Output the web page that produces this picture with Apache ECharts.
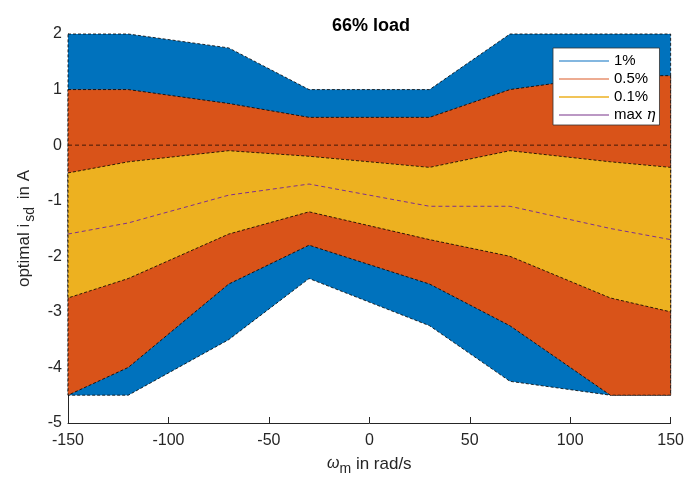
<!DOCTYPE html>
<html>
<head>
<meta charset="utf-8">
<script src="https://cdn.jsdelivr.net/npm/echarts@6/dist/echarts.min.js"></script>
<style>
  html, body { margin: 0; padding: 0; background: #fff; }
  #chart { width: 687px; height: 481px; }
</style>
</head>
<body>
<div id="chart"></div>
<script>
// Speed grid (rad/s)
const omega = [-150, -120, -70, -30, 30, 70, 120, 150];

// Tolerance bands of the optimal d-axis current (A): upper and lower limits
const upper1  = [2, 2, 1.75, 1, 1, 2, 2, 2];
const lower1  = [-4.5, -4.5, -3.5, -2.4, -3.25, -4.25, -4.5, -4.5];
const upper05 = [1, 1, 0.75, 0.5, 0.5, 1, 1.25, 1.25];
const lower05 = [-4.5, -4, -2.5, -1.8, -2.5, -3.25, -4.5, -4.5];
const upper01 = [-0.5, -0.3, -0.1, -0.2, -0.4, -0.1, -0.3, -0.4];
const lower01 = [-2.75, -2.4, -1.6, -1.2, -1.7, -2.0, -2.75, -3.0];

// Current at maximum efficiency
const maxEta = [-1.6, -1.4, -0.9, -0.7, -1.1, -1.1, -1.5, -1.7];

// Axis ticks
const xTicks = [-150, -100, -50, 0, 50, 100, 150];
const yTicks = [-5, -4, -3, -2, -1, 0, 1, 2];

const FONT = '"Liberation Sans", Arial, Helvetica, sans-serif';
const AXIS_COLOR = '#262626';

// One filled polygon per band, outlined with a black dashed edge
function bandSeries(name, upper, lower, fill, legendColor) {
  return {
    name: name,
    type: 'custom',
    coordinateSystem: 'cartesian2d',
    itemStyle: { color: legendColor },
    data: omega.map((w, i) => [w, lower[i], upper[i]]),
    encode: { x: 0, y: [1, 2] },
    renderItem: function (params, api) {
      if (params.dataIndex !== 0) return null;
      const pts = [];
      for (let i = 0; i < omega.length; i++) pts.push(api.coord([omega[i], upper[i]]));
      for (let i = omega.length - 1; i >= 0; i--) pts.push(api.coord([omega[i], lower[i]]));
      return {
        type: 'polygon',
        shape: { points: pts },
        style: { fill: fill, stroke: '#000', lineWidth: 0.8, lineDash: [3, 2] }
      };
    },
    silent: true
  };
}

const chart = echarts.init(document.getElementById('chart'), null, { renderer: 'canvas' });

chart.setOption({
  animation: false,
  backgroundColor: '#ffffff',
  title: {
    text: '66% load',
    left: 366,
    top: 12,
    textAlign: 'center',
    textStyle: { fontFamily: FONT, fontSize: 18, fontWeight: 'bold', color: '#000' }
  },
  grid: { left: 68, right: 14, top: 34, bottom: 55, containLabel: false },
  legend: {
    left: 553,
    top: 48,
    orient: 'vertical',
    selectedMode: false,
    backgroundColor: '#fff',
    borderColor: '#333',
    borderWidth: 0.8,
    borderRadius: 0,
    padding: [5, 4, 2, 6],
    itemGap: 2,
    itemWidth: 50,
    itemHeight: 1.5,
    icon: 'rect',
    textStyle: {
      fontFamily: FONT, fontSize: 15, color: '#000', lineHeight: 16,
      rich: {
        a: { fontFamily: FONT, fontSize: 15, color: '#000', lineHeight: 16 },
        e: { fontFamily: '"DejaVu Serif", serif', fontStyle: 'italic', fontSize: 15, color: '#000', lineHeight: 16 }
      }
    },
    formatter: function (name) {
      if (name === 'max η') return '{a|max }{e|η}';
      return '{a|' + name + '}';
    },
    data: [
      { name: '1%', itemStyle: { color: '#5a9fd6' } },
      { name: '0.5%', itemStyle: { color: '#e7916e' } },
      { name: '0.1%', itemStyle: { color: '#edb120' } },
      { name: 'max η', itemStyle: { color: '#a476b0' } }
    ]
  },
  xAxis: {
    type: 'value',
    min: -150,
    max: 150,
    interval: 50,
    name: '{w|ω}{s|m}{t| in rad/s}',
    nameLocation: 'middle',
    nameGap: 29,
    nameTextStyle: {
      rich: {
        w: { fontFamily: FONT, fontStyle: 'italic', fontSize: 16, color: AXIS_COLOR, lineHeight: 24 },
        s: { fontFamily: FONT, fontSize: 14, color: AXIS_COLOR, lineHeight: 14, verticalAlign: 'bottom' },
        t: { fontFamily: FONT, fontSize: 17, color: AXIS_COLOR, lineHeight: 24 }
      }
    },
    axisLine: { show: true, onZero: false, lineStyle: { color: AXIS_COLOR, width: 1 } },
    axisTick: { show: true, inside: true, length: 6, lineStyle: { color: AXIS_COLOR } },
    axisLabel: {
      fontFamily: FONT, fontSize: 16, color: AXIS_COLOR, margin: 10,
      formatter: v => (xTicks.includes(v) ? String(v) : '')
    },
    splitLine: { show: false }
  },
  yAxis: {
    type: 'value',
    min: -5,
    max: 2,
    interval: 1,
    name: '{t|optimal i}{s|sd}{t| in A}',
    nameLocation: 'middle',
    nameGap: 30,
    nameTextStyle: {
      rich: {
        t: { fontFamily: FONT, fontSize: 17, color: AXIS_COLOR, lineHeight: 26 },
        s: { fontFamily: FONT, fontSize: 14, color: AXIS_COLOR, lineHeight: 14, verticalAlign: 'bottom', padding: [0, 3, 0, 2] }
      }
    },
    axisLine: { show: true, onZero: false, lineStyle: { color: AXIS_COLOR, width: 1 } },
    axisTick: { show: true, inside: true, length: 6, lineStyle: { color: AXIS_COLOR } },
    axisLabel: {
      fontFamily: FONT, fontSize: 16, color: AXIS_COLOR, margin: 6,
      formatter: v => (yTicks.includes(v) ? String(v) : '')
    },
    splitLine: { show: false }
  },
  series: [
    bandSeries('1%', upper1, lower1, '#0072BD', '#5a9fd6'),
    bandSeries('0.5%', upper05, lower05, '#D95319', '#e7916e'),
    bandSeries('0.1%', upper01, lower01, '#EDB120', '#edb120'),
    {
      name: 'zero',
      type: 'line',
      data: [[omega[0], 0], [omega[omega.length - 1], 0]],
      symbol: 'none',
      silent: true,
      lineStyle: { color: '#000', opacity: 0.7, width: 1, type: [4, 3] }
    },
    {
      name: 'max η',
      type: 'line',
      data: omega.map((w, i) => [w, maxEta[i]]),
      symbol: 'none',
      silent: true,
      lineStyle: { color: '#7E2F8E', width: 1, type: [4, 3] }
    }
  ]
});
</script>
</body>
</html>
